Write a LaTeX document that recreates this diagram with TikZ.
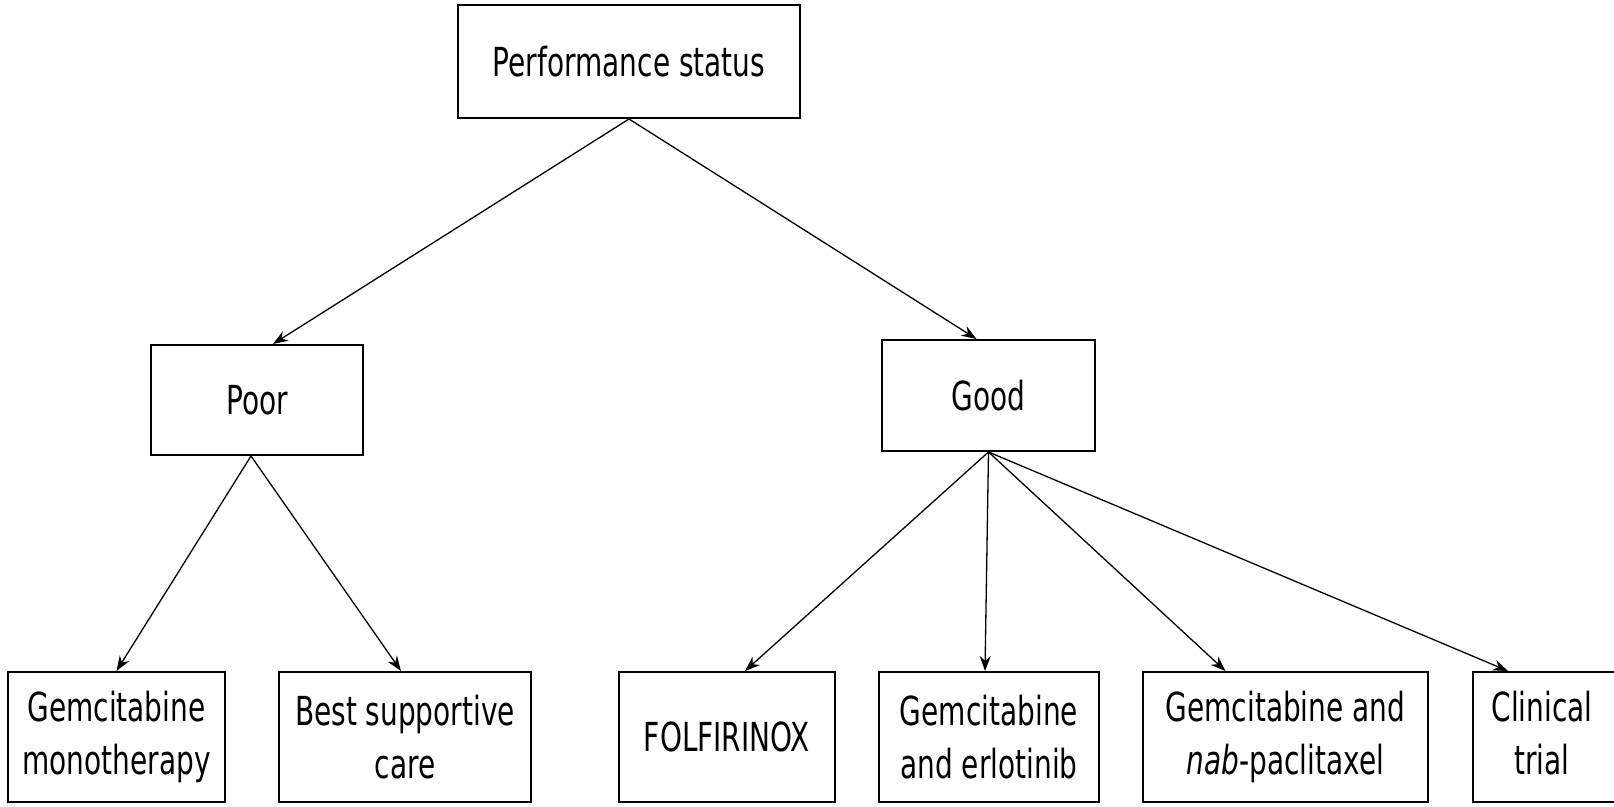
\documentclass[tikz,border=0pt]{standalone}
\usepackage{fontspec}
\setmainfont[FakeStretch=0.7]{DejaVu Sans}
\usetikzlibrary{arrows.meta}

\tikzset{
  box/.style={draw, line width=1pt, align=center, inner sep=2pt,
    font=\fontsize{20}{26.5}\selectfont},
  arr/.style={line width=0.65pt, -{Stealth[length=7.5pt,width=5.5pt]}}
}

\begin{document}
\begin{tikzpicture}[x=0.5pt,y=-0.5pt]

% Frame of the picture
\useasboundingbox (0,0) rectangle (1614,807);

% Top level
\node[box, minimum width=171pt, minimum height=56.5pt] (perf) at (629,61.5) {Performance status};

% Second level
\node[box, minimum width=106pt, minimum height=55pt] (poor) at (257,400) {Poor};
\node[box, minimum width=106.5pt, minimum height=55.5pt] (good) at (988.5,395.5) {Good};

% Treatments
\node[box, minimum width=108.5pt, minimum height=65pt] (gemmono) at (116.5,737) {Gemcitabine\\monotherapy};
\node[box, minimum width=126pt, minimum height=65pt] (bsc) at (405,737) {Best supportive\\care};
\node[box, minimum width=108pt, minimum height=65pt] (folfirinox) at (727,737) {FOLFIRINOX};
\node[box, minimum width=110pt, minimum height=65pt] (gemerl) at (989,737) {Gemcitabine\\and erlotinib};
\node[box, minimum width=142.5pt, minimum height=65pt] (gemnab) at (1285.5,737) {Gemcitabine and\\\textit{nab}-paclitaxel};
\node[box, minimum width=120pt, minimum height=65pt, anchor=west] (trial) at (1472,737)
  {\begin{tabular}{@{}c@{}}Clinical\\trial\end{tabular}\hspace{51pt}};

% Arrows from performance status
\draw[arr] (perf.south) -- ([xshift=8pt]poor.north);
\draw[arr] (perf.south) -- ([xshift=-6pt]good.north);

% Arrows from poor
\draw[arr] ([xshift=-3pt]poor.south) -- (gemmono.north);
\draw[arr] ([xshift=-3pt]poor.south) -- ([xshift=-2pt]bsc.north);

% Arrows from good
\draw[arr] (good.south) -- ([xshift=9pt]folfirinox.north);
\draw[arr] (good.south) -- ([xshift=-2pt]gemerl.north);
\draw[arr] (good.south) -- ([xshift=-30pt]gemnab.north);
\draw[arr] (good.south) -- ([xshift=18pt]trial.north west);

\end{tikzpicture}
\end{document}
